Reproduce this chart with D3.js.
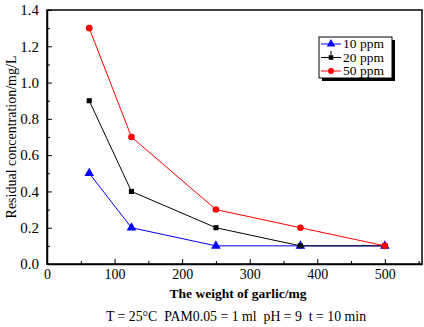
<!DOCTYPE html>
<html>
<head>
<meta charset="utf-8">
<script src="https://cdn.jsdelivr.net/npm/d3@7"></script>
<style>
  body { margin: 0; background: #fff; }
  svg text { font-family: "Liberation Serif", "Times New Roman", serif !important; white-space: pre; }
</style>
</head>
<body>
<div id="chart"></div>
<script>
// 數據
const weights = [62.5, 125, 250, 375, 500];
const ppm10 = [0.5, 0.2, 0.1, 0.1, 0.1];
const ppm20 = [0.9, 0.4, 0.2, 0.1, 0.1];
const ppm50 = [1.3, 0.7, 0.3, 0.2, 0.1];
const seriesNames = ["10 ppm", "20 ppm", "50 ppm"];
const xTicks = [0, 100, 200, 300, 400, 500];
const yTicks = [0.0, 0.2, 0.4, 0.6, 0.8, 1.0, 1.2, 1.4];

const width = 424, height = 327;
const margin = { top: 10, right: 2, bottom: 63, left: 47 };
const serif = '"Liberation Serif", "Times New Roman", serif';

const series = [
    { name: seriesNames[0], values: ppm10, color: "#0000ff", shape: d3.symbolTriangle, size: 40 },
    { name: seriesNames[1], values: ppm20, color: "#000000", shape: d3.symbolSquare, size: 26 },
    { name: seriesNames[2], values: ppm50, color: "#ff0000", shape: d3.symbolCircle, size: 34 }
];

const svg = d3.select("#chart").append("svg")
    .attr("width", width)
    .attr("height", height)
    .attr("font-family", serif);

const xScale = d3.scaleLinear()
    .domain([0, 555])
    .range([margin.left, width - margin.right]);

const yScale = d3.scaleLinear()
    .domain([0, 1.4])
    .range([height - margin.bottom, margin.top]);

// 框
svg.append("rect")
    .attr("x", margin.left)
    .attr("y", margin.top)
    .attr("width", width - margin.right - margin.left)
    .attr("height", height - margin.bottom - margin.top)
    .attr("fill", "none")
    .attr("stroke", "black")
    .attr("stroke-width", 1.5);

// x 軸 (刻度朝內)
const xAxis = svg.append("g")
    .attr("transform", `translate(0, ${height - margin.bottom})`)
    .call(d3.axisBottom(xScale).tickValues(xTicks).tickSize(-5).tickPadding(5).tickSizeOuter(0))
    .attr("font-family", serif);
xAxis.select(".domain").attr("stroke-width", 1.5);
xAxis.selectAll(".tick text")
    .style("font-family", serif)
    .style("font-size", "14px")
    .attr("fill", "black");
svg.append("g")
    .attr("transform", `translate(0, ${height - margin.bottom})`)
    .call(d3.axisBottom(xScale).tickValues([50, 150, 250, 350, 450, 550]).tickSize(-3).tickFormat("").tickSizeOuter(0))
    .select(".domain").remove();

// y 軸
const yAxis = svg.append("g")
    .attr("transform", `translate(${margin.left}, 0)`)
    .call(d3.axisLeft(yScale).tickValues(yTicks).tickFormat(d3.format(".1f")).tickSize(-5).tickPadding(8).tickSizeOuter(0))
    .attr("font-family", serif);
yAxis.select(".domain").attr("stroke-width", 1.5);
yAxis.selectAll(".tick text")
    .style("font-family", serif)
    .style("font-size", "15px")
    .attr("fill", "black");
svg.append("g")
    .attr("transform", `translate(${margin.left}, 0)`)
    .call(d3.axisLeft(yScale).tickValues([0.1, 0.3, 0.5, 0.7, 0.9, 1.1, 1.3]).tickSize(-3).tickFormat("").tickSizeOuter(0))
    .select(".domain").remove();

// 線與點
const line = d3.line()
    .x((d, i) => xScale(weights[i]))
    .y(d => yScale(d));

series.forEach(s => {
    svg.append("path")
        .datum(s.values)
        .attr("d", line)
        .attr("fill", "none")
        .attr("stroke", s.color)
        .attr("stroke-width", 1);
    svg.append("g")
        .selectAll("path")
        .data(s.values)
        .enter()
        .append("path")
        .attr("transform", (d, i) => `translate(${xScale(weights[i])}, ${yScale(d)})`)
        .attr("d", d3.symbol().type(s.shape).size(s.size))
        .attr("fill", s.color);
});

// 圖例
const legend = svg.append("g").attr("transform", "translate(319, 37)");
legend.append("rect")
    .attr("x", 3).attr("y", 3)
    .attr("width", 73).attr("height", 41)
    .attr("fill", "black");
legend.append("rect")
    .attr("width", 73).attr("height", 41)
    .attr("fill", "white")
    .attr("stroke", "black")
    .attr("stroke-width", 1);
series.forEach((s, i) => {
    const y = 7 + i * 13.5;
    legend.append("line")
        .attr("x1", 2).attr("x2", 22)
        .attr("y1", y).attr("y2", y)
        .attr("stroke", s.color);
    legend.append("path")
        .attr("transform", `translate(12, ${y})`)
        .attr("d", d3.symbol().type(s.shape).size(s.size * 0.8))
        .attr("fill", s.color);
    legend.append("text")
        .attr("x", 24)
        .attr("y", y + 4)
        .style("font-size", "13.5px")
        .text(s.name);
});
legend.append("line")
    .attr("x1", 12).attr("x2", 12)
    .attr("y1", 14).attr("y2", 18)
    .attr("stroke", "black");

// 軸標題
svg.append("text")
    .attr("transform", `translate(16, ${(margin.top + height - margin.bottom) / 2}) rotate(-90)`)
    .attr("text-anchor", "middle")
    .style("font-size", "14px")
    .text("Residual concentration/mg/L");

svg.append("text")
    .attr("x", 238)
    .attr("y", 298)
    .attr("text-anchor", "middle")
    .style("font-size", "13.5px")
    .style("font-weight", "bold")
    .text("The weight of garlic/mg");

svg.append("text")
    .attr("x", 236)
    .attr("y", 321)
    .attr("text-anchor", "middle")
    .style("font-size", "13.8px")
    .text("T = 25°C  PAM0.05 = 1 ml  pH = 9  t = 10 min");
</script>
</body>
</html>
